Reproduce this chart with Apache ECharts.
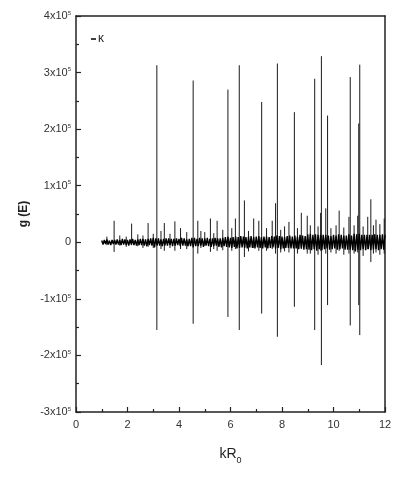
<!DOCTYPE html>
<html>
<head>
<meta charset="utf-8">
<script src="https://cdn.jsdelivr.net/npm/echarts@6/dist/echarts.min.js"></script>
<style>
  html, body { margin: 0; padding: 0; background: #fff; }
  #chart { width: 407px; height: 478px; }
</style>
</head>
<body>
<div id="chart"></div>
<script>
// g(E) in units of 1e5, kR0 on x
const xTicks = [0, 2, 4, 6, 8, 10, 12];
const yTicks = [-3, -2, -1, 0, 1, 2, 3, 4];

// background fluctuation, sampled every 0.05 from kR0 = 1.00
const noiseStart = 1.0;
const noiseStep = 0.05;
const noise = [
  0.03,-0.04,0.04,-0.03,0.05,-0.04,0.03,-0.05,0.04,-0.03,0.04,
  -0.04,0.05,-0.04,0.04,-0.05,0.06,-0.04,0.05,-0.05,0.04,-0.06,0.05,-0.04,0.06,-0.05,0.04,-0.06,0.05,-0.05,0.06,
  -0.05,0.06,-0.06,0.05,-0.07,0.06,-0.05,0.07,-0.06,0.08,-0.09,0.07,-0.06,0.07,-0.06,0.05,-0.07,0.06,-0.06,0.07,
  -0.06,0.07,-0.05,0.06,-0.07,0.06,-0.06,0.07,-0.05,0.06,-0.07,0.08,-0.06,0.07,-0.06,0.05,-0.07,0.06,-0.07,0.08,
  -0.09,0.08,-0.07,0.06,-0.07,0.08,-0.06,0.07,-0.08,0.07,-0.06,0.08,-0.07,0.06,-0.08,0.07,-0.07,0.08,-0.06,0.07,
  -0.08,0.07,-0.09,0.08,-0.07,0.09,-0.08,0.1,-0.09,0.08,-0.1,0.09,-0.08,0.1,-0.11,0.09,-0.1,0.11,-0.09,0.1,
  -0.1,0.09,-0.11,0.1,-0.09,0.11,-0.1,0.09,-0.11,0.1,-0.09,0.11,-0.1,0.09,-0.11,0.1,-0.09,0.1,-0.11,0.09,
  -0.1,0.11,-0.09,0.1,-0.11,0.12,-0.1,0.11,-0.12,0.1,-0.11,0.09,-0.1,0.11,-0.1,0.12,-0.11,0.1,-0.11,0.12,
  -0.11,0.1,-0.12,0.13,-0.11,0.12,-0.13,0.11,-0.12,0.14,-0.13,0.15,-0.14,0.13,-0.12,0.14,-0.15,0.13,-0.12,0.13,
  -0.14,0.13,-0.12,0.13,-0.11,0.12,-0.13,0.11,-0.12,0.13,-0.11,0.12,-0.13,0.14,-0.12,0.13,-0.11,0.12,-0.13,0.12,
  -0.13,0.14,-0.13,0.12,-0.14,0.15,-0.16,0.14,-0.13,0.15,-0.14,0.13,-0.12,0.13,-0.14,0.13,-0.12,0.13,-0.14,0.13,
  -0.13,0.14,-0.12,0.13,-0.14,0.13,-0.12,0.14,-0.13,0.13
];

// resonance spikes: position, upper and lower peak
const spikeX = [
  1.48, 2.16, 2.80, 3.14, 3.43, 3.84, 4.06, 4.55, 4.73, 5.00, 5.22, 5.48,
  5.90, 6.19, 6.34, 6.54, 6.90, 7.10, 7.21, 7.62, 7.75, 7.82, 8.27, 8.48,
  8.75, 8.98, 9.27, 9.50, 9.53, 9.70, 9.77, 10.22, 10.60, 10.65, 10.94,
  10.98, 11.02, 11.33, 11.45, 11.65, 11.97
];
const spikeTop = [
  0.38, 0.33, 0.34, 3.13, 0.34, 0.37, 0.25, 2.86, 0.38, 0.18, 0.42, 0.38,
  2.70, 0.42, 3.13, 0.74, 0.42, 0.38, 2.48, 0.38, 0.69, 3.16, 0.36, 2.30,
  0.52, 0.47, 2.89, 0.52, 3.29, 0.60, 2.24, 0.56, 0.45, 2.92, 0.47,
  2.10, 3.14, 0.45, 0.76, 0.40, 0.42
];
const spikeBottom = [
  -0.17, -0.05, -0.08, -1.55, -0.15, -0.15, -0.12, -1.44, -0.20, -0.06, -0.17, -0.15,
  -1.32, -0.12, -1.55, -0.26, -0.10, -0.15, -1.26, -0.12, -0.20, -1.67, -0.18, -1.14,
  -0.12, -0.20, -1.55, -0.15, -2.17, -0.20, -1.11, -0.15, -0.20, -1.47, -0.18,
  -1.11, -1.64, -0.12, -0.35, -0.18, -0.20
];

// smaller peaks riding on the background
const minorX = [
  1.20, 1.70, 1.95, 2.40, 2.60, 3.00, 3.30, 3.65, 4.30, 4.85, 5.35, 5.70,
  6.05, 6.70, 7.40, 7.95, 8.10, 8.60, 9.10, 9.40, 9.90, 10.10, 10.40,
  10.80, 11.15, 11.55, 11.80
];
const minorTop = [
  0.10, 0.12, 0.10, 0.14, 0.12, 0.15, 0.20, 0.15, 0.18, 0.20, 0.16, 0.22,
  0.25, 0.20, 0.25, 0.22, 0.28, 0.25, 0.30, 0.28, 0.25, 0.30, 0.26,
  0.30, 0.28, 0.30, 0.32
];
const minorBottom = [
  -0.05, -0.06, -0.08, -0.07, -0.10, -0.10, -0.12, -0.10, -0.12, -0.10, -0.12, -0.14,
  -0.15, -0.16, -0.15, -0.18, -0.16, -0.20, -0.20, -0.22, -0.18, -0.20, -0.22,
  -0.20, -0.24, -0.20, -0.22
];

const noiseData = noise.map((v, i) => [+(noiseStart + i * noiseStep).toFixed(3), v]);

const spikeData = [];
function addSpikes(xs, tops, bottoms) {
  xs.forEach((x, i) => {
    spikeData.push([x, tops[i]], [x, bottoms[i]], [x, null]);
  });
}
addSpikes(spikeX, spikeTop, spikeBottom);
addSpikes(minorX, minorTop, minorBottom);

const labelFont = "'Liberation Sans Narrow', 'Liberation Sans', Arial, sans-serif";

const chart = echarts.init(document.getElementById('chart'));
chart.setOption({
  backgroundColor: '#fff',
  animation: false,
  grid: { left: 76, right: 22, top: 16, bottom: 66 },
  legend: {
    left: 86, top: 28,
    data: ['κ'],
    icon: 'rect', itemWidth: 5, itemHeight: 1.5, itemGap: 2,
    textStyle: { fontFamily: labelFont, fontSize: 12, color: '#222', padding: [0, 0, 0, -3] }
  },
  xAxis: [{
    type: 'value', min: 0, max: 12, interval: 2,
    name: 'kR{sub|0}', nameLocation: 'middle', nameGap: 35,
    nameTextStyle: {
      fontFamily: labelFont, fontSize: 14, color: '#222',
      rich: { sub: { fontSize: 9, verticalAlign: 'bottom', padding: [0, 0, -4, 0], fontFamily: labelFont, color: '#222' } }
    },
    axisLine: { show: true, onZero: false, lineStyle: { color: '#222', width: 1.5 } },
    axisTick: { inside: true, length: 5, lineStyle: { color: '#222', width: 1.2 } },
    minorTick: { show: true, splitNumber: 2, length: 3, lineStyle: { color: '#222', width: 1.2 } },
    splitLine: { show: false },
    axisLabel: {
      fontFamily: labelFont, fontSize: 11, color: '#333', margin: 7,
      customValues: xTicks
    }
  }, {
    type: 'value', position: 'top', min: 0, max: 12,
    axisLine: { show: true, onZero: false, lineStyle: { color: '#222', width: 1.5 } },
    axisTick: { show: false }, axisLabel: { show: false }, splitLine: { show: false }
  }],
  yAxis: [{
    type: 'value', min: -3, max: 4, interval: 1,
    name: 'g (E)', nameLocation: 'middle', nameGap: 40, nameRotate: 90,
    nameTextStyle: { fontFamily: "'Liberation Sans', Arial, sans-serif", fontSize: 12, fontWeight: 'bold', color: '#222' },
    axisLine: { show: true, onZero: false, lineStyle: { color: '#222', width: 1.5 } },
    axisTick: { inside: true, length: 5, lineStyle: { color: '#222', width: 1.2 } },
    minorTick: { show: true, splitNumber: 2, length: 3, lineStyle: { color: '#222', width: 1.2 } },
    splitLine: { show: false },
    axisLabel: {
      fontFamily: labelFont, fontSize: 11, color: '#333', margin: 5,
      customValues: yTicks,
      formatter: v => v === 0 ? '0' : v + 'x10{sup|5}',
      rich: { sup: { fontSize: 6, verticalAlign: 'top', padding: [0, 0, 6, 0], fontFamily: labelFont, color: '#333' } }
    }
  }, {
    type: 'value', position: 'right', min: -3, max: 4,
    axisLine: { show: true, onZero: false, lineStyle: { color: '#222', width: 1.5 } },
    axisTick: { show: false }, axisLabel: { show: false }, splitLine: { show: false }
  }],
  series: [{
    name: 'κ',
    type: 'line',
    data: noiseData,
    showSymbol: false,
    sampling: null,
    itemStyle: { color: '#000' },
    lineStyle: { color: '#000', width: 1.4 },
    z: 2
  }, {
    name: 'κ',
    type: 'line',
    data: spikeData,
    showSymbol: false,
    connectNulls: false,
    sampling: null,
    itemStyle: { color: '#000' },
    lineStyle: { color: '#1a1a1a', width: 1 },
    z: 1
  }]
});
</script>
</body>
</html>
